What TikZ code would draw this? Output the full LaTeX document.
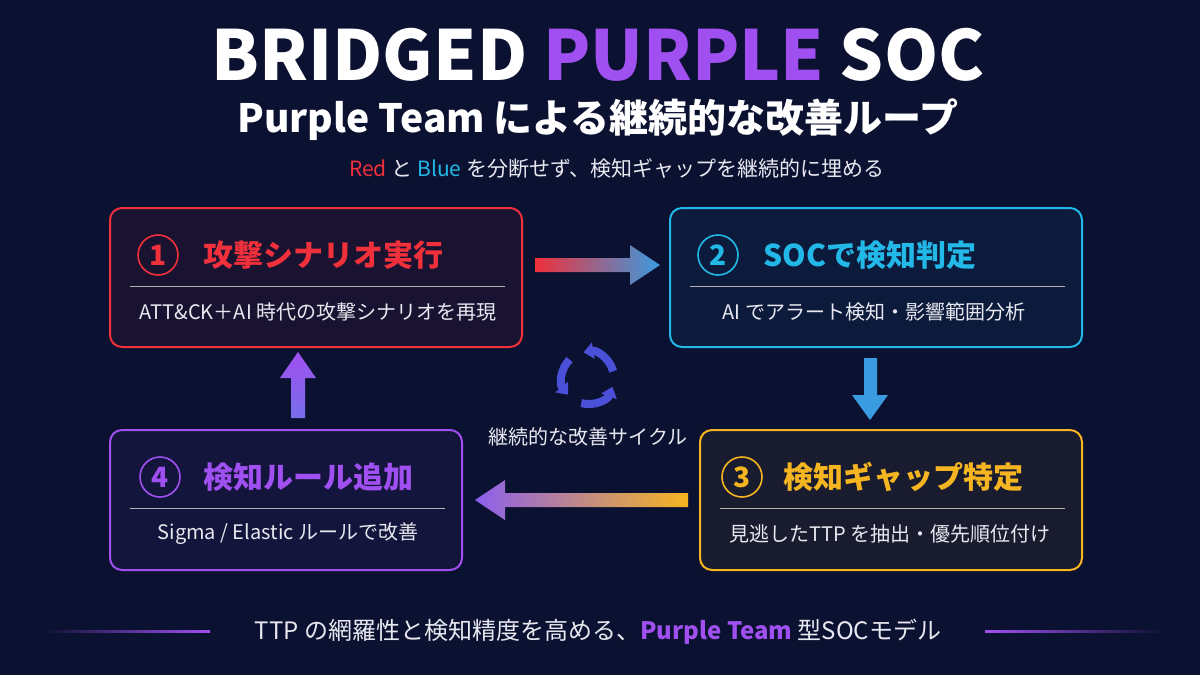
\documentclass[tikz,border=0pt]{standalone}
\usepackage{fontspec}
\setmainfont{Noto Sans CJK JP}
\usetikzlibrary{arrows.meta}
\definecolor{bg}{HTML}{0B1130}
\definecolor{cred}{HTML}{F0303A}
\definecolor{ccyan}{HTML}{22B8E8}
\definecolor{cyel}{HTML}{F5B520}
\definecolor{cpur}{HTML}{A050F0}
\definecolor{cblue}{HTML}{3A9BE0}
\definecolor{ctext}{HTML}{E8E8F0}
\definecolor{cicon}{HTML}{4A50D8}
\begin{document}
\begin{tikzpicture}[x=1pt,y=-1pt,
  box/.style={draw=#1,line width=2pt,rounded corners=12pt,fill=#1!6!bg},
  num/.style={circle,draw=#1,line width=1.6pt,minimum size=40pt,inner sep=0pt,text=#1,font=\fontsize{28}{28}\selectfont\bfseries},
  ttl/.style={anchor=west,text=#1,font=\fontsize{30}{30}\selectfont\bfseries},
  sub/.style={text=ctext,font=\fontsize{20}{20}\selectfont},
  sep/.style={draw=gray!60,line width=0.8pt}]
\fill[bg] (0,0) rectangle (1200,675);
\useasboundingbox (0,0) rectangle (1200,675);
% title
\node[text=white,font=\fontsize{69}{69}\selectfont\bfseries] (t1) at (598,55) {BRIDGED \textcolor{cpur}{PURPLE} SOC};
\node[text=white,font=\fontsize{39}{39}\selectfont\bfseries] (t2) at (598,120) {Purple Team による継続的な改善ループ};
\node[text=ctext,font=\fontsize{21}{21}\selectfont] (t3) at (617,168) {\textcolor{cred}{Red} と \textcolor{ccyan}{Blue} を分断せず、検知ギャップを継続的に埋める};
% boxes
\draw[box=cred] (110,208) rectangle (522,347);
\draw[box=ccyan] (670,208) rectangle (1082,347);
\draw[box=cyel] (700,430) rectangle (1082,570);
\draw[box=cpur] (110,430) rectangle (462,570);
\node[num=cred] (n1) at (158,255) {1};
\node[ttl=cred] (h1) at (200,255) {攻撃シナリオ実行};
\draw[sep] (130,286) -- (505,286);
\node[sub] (s1) at (318,312) {ATT\&CK＋AI 時代の攻撃シナリオを再現};
\node[num=ccyan] (n2) at (718,255) {2};
\node[ttl=ccyan] (h2) at (760,255) {SOCで検知判定};
\draw[sep] (690,286) -- (1065,286);
\node[sub] (s2) at (874,312) {AI でアラート検知・影響範囲分析};
\node[num=cyel] (n3) at (742,477) {3};
\node[ttl=cyel] (h3) at (780,477) {検知ギャップ特定};
\draw[sep] (720,508) -- (1065,508);
\node[sub] (s3) at (890,534) {見逃したTTP を抽出・優先順位付け};
\node[num=cpur] (n4) at (160,477) {4};
\node[ttl=cpur] (h4) at (200,477) {検知ルール追加};
\draw[sep] (130,508) -- (445,508);
\node[sub] (s4) at (288,534) {Sigma / Elastic ルールで改善};
% arrows
\shade[left color=cred,right color=cblue] (535,258) -- (630,258) -- (630,245) -- (660,265) -- (630,285) -- (630,272) -- (535,272) -- cycle;
\fill[cblue] (864,358) -- (877,358) -- (877,395) -- (888,395) -- (870,420) -- (852,395) -- (864,395) -- cycle;
\shade[left color=cpur!80!cblue,right color=cyel] (688,493) -- (505,493) -- (505,480) -- (475,500) -- (505,520) -- (505,507) -- (688,507) -- cycle;
\shade[top color=cpur,bottom color=cpur!60!cblue] (291,418) -- (291,378) -- (280,378) -- (298,352) -- (316,378) -- (305,378) -- (305,418) -- cycle;
% cycle icon
\begin{scope}[shift={(588,378)}]
\foreach \a in {0,120,240}{
  \draw[cicon,line width=8pt,-{Triangle[length=10pt,width=16pt]}] (\a+105:26) arc[start angle=\a+105,end angle=\a+20,radius=26];
}
\end{scope}
\coordinate (ic) at (588,378);
\node[text=ctext,font=\fontsize{20}{20}\selectfont] (cl) at (588,437) {継続的な改善サイクル};
% footer
\node[text=ctext,font=\fontsize{24}{24}\selectfont] (ft) at (598,632) {TTP の網羅性と検知精度を高める、\textbf{\textcolor{cpur}{Purple Team}} 型SOCモデル};
\shade[left color=bg,right color=cpur] (40,630.5) rectangle (210,632);
\shade[left color=cpur,right color=bg] (985,630.5) rectangle (1165,632);
\end{tikzpicture}
\end{document}
